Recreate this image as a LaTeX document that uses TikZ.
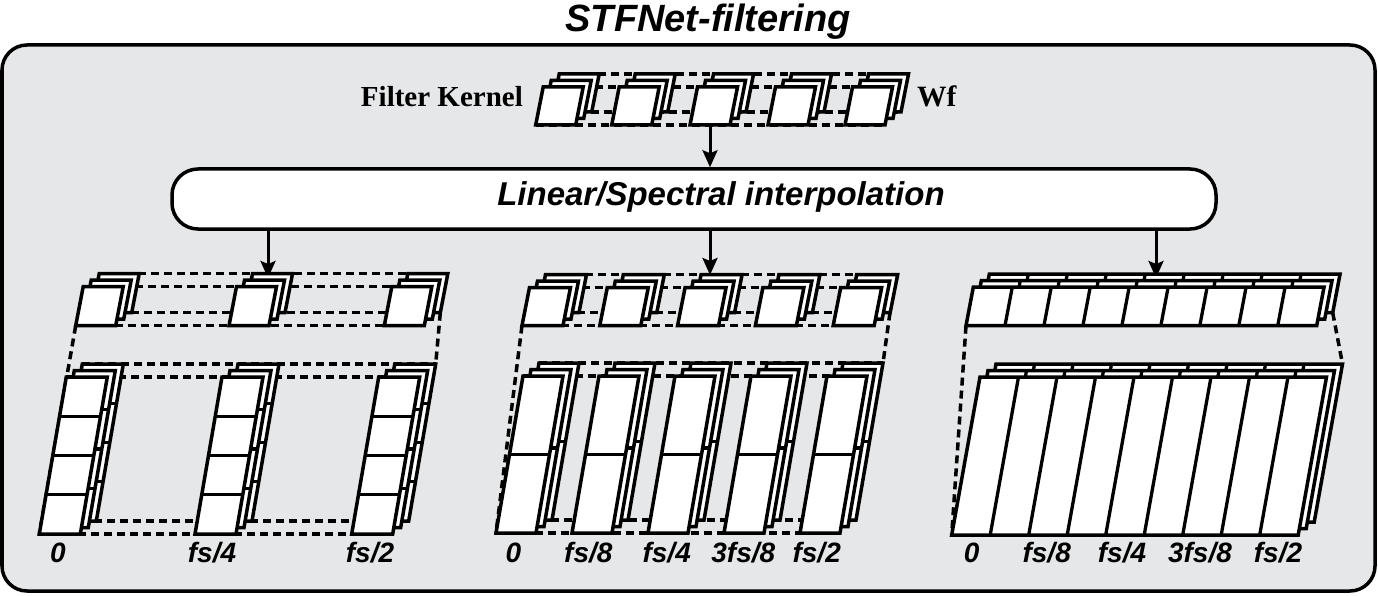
\documentclass[tikz,border=0pt]{standalone}
\usepackage{fontspec}
\setmainfont{Liberation Serif}
\newfontfamily\arialf{Liberation Sans}
\usetikzlibrary{arrows.meta}
\definecolor{bgc}{RGB}{230,231,232}
\tikzset{
  cellbox/.style={draw=black, fill=white, line width=3.5pt, line join=miter},
  cellline/.style={draw=black, line width=3.3pt},
  dashln/.style={draw=black, line width=3.5pt, dash pattern=on 8pt off 5pt},
  arr/.style={draw=black, line width=3pt, -{Stealth[length=17pt,width=15pt,inset=3pt]}},
  lbl/.style={font=\arialf\bfseries\itshape\fontsize{28}{30}\selectfont, anchor=base, inner sep=0pt},
  outerbox/.style={draw=black, fill=bgc, line width=3.5pt, rounded corners=25pt},
  interpbox/.style={draw=black, fill=white, line width=3.5pt, rounded corners=26pt,
    minimum width=1044pt, minimum height=60pt, inner sep=0pt},
  interptext/.style={font=\arialf\bfseries\itshape\fontsize{33}{36}\selectfont, inner sep=0pt, anchor=base},
}
\def\dx{8}\def\dy{6.5}
% x y w h skew ncols nrows  (x,y = front bottom-left, pixel coords)
\newcommand\stk[7]{%
  \foreach \k in {2,1,0}{%
    \pgfmathsetmacro\ox{#1+\k*\dx}%
    \pgfmathsetmacro\oy{#2-\k*\dy}%
    \path[cellbox] (\ox,\oy) -- ++(#3,0) -- ++(#5,-#4) -- ++(-#3,0) -- cycle;
    \ifnum#6>1
      \pgfmathtruncatemacro\nc{#6-1}%
      \foreach \i in {1,...,\nc}{\draw[cellline] ({\ox+\i*#3/#6},\oy) -- ++(#5,-#4);}
    \fi
    \ifnum#7>1
      \pgfmathtruncatemacro\nr{#7-1}%
      \foreach \j in {1,...,\nr}{\draw[cellline] ({\ox+\j*#5/#7},{\oy-\j*#4/#7}) -- ++(#3,0);}
    \fi
  }}
% x1 xlast y w h skew : dashed edges joining a row of stacks
\newcommand\dashrow[6]{%
  \draw[dashln] (#1,#3) -- ({#2+#4},#3);
  \draw[dashln] ({#1+#6},{#3-#5}) -- ({#2+#4+#6},{#3-#5});
  \draw[dashln] ({#1+2*\dx},{#3-2*\dy}) -- ({#2+#4+2*\dx},{#3-2*\dy});
  \draw[dashln] ({#1+#6+2*\dx},{#3-#5-2*\dy}) -- ({#2+#4+#6+2*\dx},{#3-#5-2*\dy});
}
\begin{document}
\begin{tikzpicture}[x=1pt,y=-1pt]
\useasboundingbox (0,0) rectangle (1378,596);
\path[outerbox] (2,45) rectangle (1375,591);
\node[font=\arialf\bfseries\itshape\fontsize{38}{40}\selectfont, anchor=base, inner sep=0pt] (title) at (708,31.5) {STFNet-filtering};

% ---- filter kernel row
\dashrow{535.7}{845}{125}{40}{38}{7.5}
\foreach \x in {535.7,611.7,690,768,845}{\stk{\x}{125}{40}{38}{7.5}{1}{1}}
\node[font=\bfseries\fontsize{29}{32}\selectfont, anchor=base east, inner sep=0pt] (fk) at (523,106.5) {Filter Kernel};
\node[font=\bfseries\fontsize{29.5}{32}\selectfont, anchor=base west, inner sep=0pt] (wf) at (917,106.5) {Wf};
\coordinate (k3) at (710,125);

% ---- interpolation box
\node[interpbox] (interp) at (694,199) {};
\node[interptext] (itxt) at (721,206) {Linear/Spectral interpolation};
\draw[arr] (k3) -- (k3 |- interp.north);

% ---- arrows to panels
\coordinate (tL) at (268,278);
\coordinate (tM) at (710,275);
\coordinate (tR) at (1156,278);
\draw[arr] (interp.south -| tL) -- (tL);
\draw[arr] (interp.south -| tM) -- (tM);
\draw[arr] (interp.south -| tR) -- (tR);

% ---- left panel
\coordinate (lA) at (75.7,325.7);
\coordinate (lB) at (39.3,534);
\coordinate (lC) at (440.3,312.7);
\coordinate (lD) at (435.7,364);
\draw[dashln] (lA) -- (lB);
\draw[dashln] (lC) -- (lD);
\dashrow{75.7}{384.3}{325.7}{40}{39}{7.5}
\foreach \x in {75.7,229,384.3}{\stk{\x}{325.7}{40}{39}{7.5}{1}{1}}
\dashrow{39.3}{351.7}{534}{41}{157}{27}
\foreach \x in {39.3,195,351.7}{\stk{\x}{534}{41}{157}{27}{1}{4}}
\node[lbl] (l0) at (58,562) {0};
\node[lbl] (l1) at (212,562) {fs/4};
\node[lbl] (l2) at (370,562) {fs/2};

% ---- middle panel
\coordinate (mA) at (522,325.5);
\coordinate (mB) at (496,533);
\coordinate (mC) at (890,312.5);
\coordinate (mD) at (883,363);
\draw[dashln] (mA) -- (mB);
\draw[dashln] (mC) -- (mD);
\dashrow{522}{833.2}{325.5}{41}{38}{7.5}
\foreach \x in {522,599.8,677.6,755.4,833.2}{\stk{\x}{325.5}{41}{38}{7.5}{1}{1}}
\dashrow{496}{800}{533}{40}{157}{27}
\foreach \x in {496,572,648,724,800}{\stk{\x}{533}{40}{157}{27}{1}{2}}
\node[lbl] (m0) at (513.3,562) {0};
\node[lbl] (m1) at (588.3,562) {fs/8};
\node[lbl] (m2) at (666.7,562) {fs/4};
\node[lbl] (m3) at (743.3,562) {3fs/8};
\node[lbl] (m4) at (816.7,562) {fs/2};

% ---- right panel
\coordinate (rA) at (966,325.7);
\coordinate (rB) at (951.7,535);
\coordinate (rC) at (1332.7,312.7);
\coordinate (rD) at (1342.5,364);
\draw[dashln] (rA) -- (rB);
\draw[dashln] (rC) -- (rD);
\stk{966}{325.7}{350.7}{38.5}{7.3}{9}{1}
\stk{951.7}{535}{346.5}{158}{28.3}{9}{1}
\node[lbl] (r0) at (971.7,562) {0};
\node[lbl] (r1) at (1046.7,562) {fs/8};
\node[lbl] (r2) at (1122,562) {fs/4};
\node[lbl] (r3) at (1200,562) {3fs/8};
\node[lbl] (r4) at (1278,562) {fs/2};
\end{tikzpicture}
\end{document}
